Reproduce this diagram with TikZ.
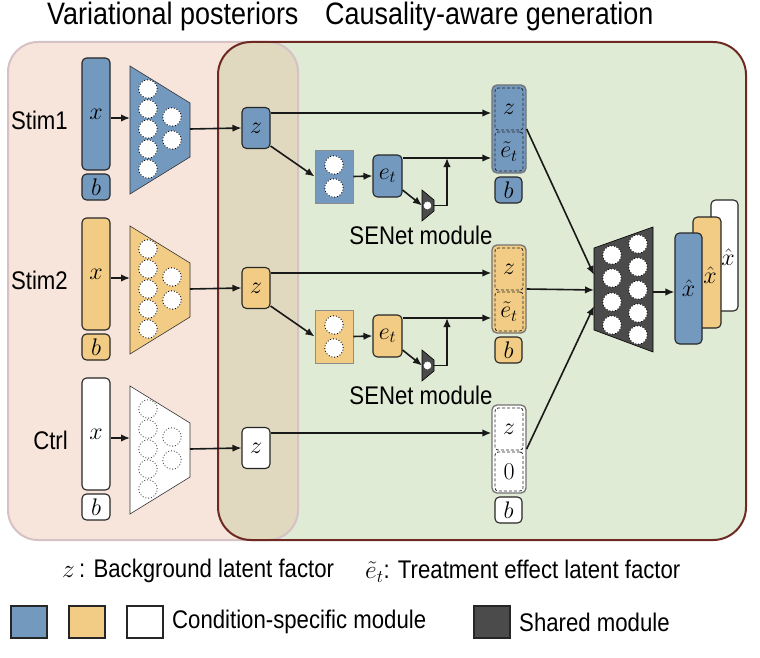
\RequirePackage{fix-cm}
\documentclass[tikz,border=0pt]{standalone}
\usepackage{fontspec}
\newfontfamily\lblfamily{Liberation Sans}[FakeStretch=0.87]
\usetikzlibrary{arrows.meta}

\definecolor{cblue}{HTML}{7499BF}
\definecolor{cyel}{HTML}{F2CC84}
\definecolor{cdark}{HTML}{4B4B4B}
\definecolor{lpink}{HTML}{F7E5DC}
\definecolor{lpinkb}{HTML}{D6C1C4}
\definecolor{lgreen}{HTML}{DFEBD5}
\definecolor{dbrown}{HTML}{6E2A22}
\definecolor{ltan}{HTML}{E0D8BF}

\newcommand\lblfont{\lblfamily\fontsize{25.5}{30}\selectfont}
\newcommand\ttlfont{\lblfamily\fontsize{31}{36}\selectfont}
\newcommand\mlabfont{\fontsize{24}{28}\selectfont}

\begin{document}
\begin{tikzpicture}[x=1pt,y=-1pt,>=Latex,
  box/.style={draw=black!85,line width=1.1pt,rounded corners=4.5pt,inner sep=0pt,font=\mlabfont},
  modb/.style={draw=black!45,line width=0.9pt,inner sep=0pt},
  cat/.style={draw=black!55,line width=1.3pt,rounded corners=5pt,inner sep=0pt},
  inr/.style={draw=black!85,dash pattern=on 3pt off 2pt,line width=0.8pt,rounded corners=3pt,inner sep=0pt,font=\mlabfont},
  enc/.style={draw=black!80,line width=0.6pt},
  sen/.style={draw=black,fill=cdark,line width=0.6pt},
  dotc/.style={circle,draw=black,fill=white,dotted,line width=0.9pt,minimum size=18.5pt,inner sep=0pt},
  dotg/.style={circle,draw=black!70,dotted,line width=0.9pt,minimum size=18.5pt,inner sep=0pt},
  sdot/.style={circle,draw=black,fill=white,dotted,line width=0.5pt,minimum size=8pt,inner sep=0pt},
  arr/.style={-{Latex[length=9pt,width=7.5pt]},line width=1.6pt,black!90},
  lbl/.style={font=\lblfont,inner sep=0pt},
  ttl/.style={font=\ttlfont,inner sep=0pt},
  sq/.style={draw=black!85,line width=2pt,minimum width=36pt,minimum height=32pt,inner sep=0pt}]
\useasboundingbox (0,0) rectangle (760,658);

% panels
\fill[lpink,rounded corners=30pt] (8,42) rectangle (298,540);
\fill[lgreen,rounded corners=33pt] (218,42) rectangle (746,540);
\begin{scope}
\clip[rounded corners=33pt] (218,42) rectangle (746,540);
\fill[ltan,rounded corners=30pt] (8,42) rectangle (298,540);
\end{scope}
\draw[lpinkb,line width=2pt,rounded corners=30pt] (8,42) rectangle (298,540);
\draw[dbrown,line width=2pt,rounded corners=33pt] (218,42) rectangle (746,540);

\node[ttl,anchor=west] (ttl1) at (47,16) {Variational posteriors};
\node[ttl,anchor=west] (ttl2) at (325,16) {Causality-aware generation};

% Stim1
\node[lbl,anchor=east] (s1) at (68,120) {Stim1};
\node[box,fill=cblue,minimum width=28pt,minimum height=112pt] (x1) at (96,114) {$x$};
\node[box,fill=cblue,minimum width=28pt,minimum height=26pt] (b1) at (96,187) {$b$};
\draw[enc,fill=cblue] (130,66) -- (190,103) -- (190,157) -- (130,194) -- cycle;
\foreach \cy in {89,109,129,149,169} \node[dotc] (n1a\cy) at (148,\cy) {};
\foreach \cy in {117,140} \node[dotc] (n1b\cy) at (172,\cy) {};
\coordinate (e1i) at (130,118);
\coordinate (e1o) at (190,129);
\node[box,fill=cblue,minimum width=28pt,minimum height=41pt] (z1) at (256,128) {$z$};
\node[modb,fill=cblue,minimum width=38pt,minimum height=53pt] (m1) at (334,176.5) {};
\node[dotc] (m1a) at (334,165) {};
\node[dotc] (m1b) at (334,188) {};
\node[box,fill=cblue,minimum width=29pt,minimum height=42pt] (et1) at (387.5,176) {$e_t$};
\draw[sen] (422,190) -- (434,200) -- (434,211) -- (422,221) -- cycle;
\node[sdot] (q1) at (427.5,205.5) {};
\coordinate (se1) at (422,205.5);
\coordinate (se1o) at (434,205.5);
\node[lbl] (sn1) at (421,235) {SENet module};
\node[cat,fill=cblue,minimum width=34pt,minimum height=88pt] (c1) at (509,129) {};
\node[inr,minimum width=28pt,minimum height=42pt] (c1z) at (509,109) {$z$};
\node[inr,minimum width=28pt,minimum height=39pt] (c1e) at (509,151.5) {$\tilde{e}_t$};
\node[box,fill=cblue,minimum width=27pt,minimum height=26pt] (cb1) at (508.5,190) {$b$};
\draw[arr] (x1.east |- e1i) -- (e1i);
\draw[arr] (e1o) -- (z1.west);
\coordinate (z1r) at ([yshift=15pt]z1.east);
\draw[arr] (z1r) -- (z1r -| c1.west);
\draw[arr] ([yshift=-18pt]z1.east) -- (m1.west);
\draw[arr] (m1.east) -- (et1.west);
\coordinate (et1r) at ([yshift=18pt]et1.east);
\draw[arr] (et1r) -- (et1r -| c1.west);
\draw[arr] ([yshift=-14pt]et1.east) -- (se1);
\coordinate (j1) at (447,158);
\draw[arr] (se1o) -| (j1);

% Stim2
\node[lbl,anchor=east] (s2) at (68,280) {Stim2};
\node[box,fill=cyel,minimum width=28pt,minimum height=112pt] (x2) at (96,274) {$x$};
\node[box,fill=cyel,minimum width=28pt,minimum height=26pt] (b2) at (96,347) {$b$};
\draw[enc,fill=cyel] (130,226) -- (190,263) -- (190,317) -- (130,354) -- cycle;
\foreach \cy in {249,269,289,309,329} \node[dotc] (n2a\cy) at (148,\cy) {};
\foreach \cy in {277,300} \node[dotc] (n2b\cy) at (172,\cy) {};
\coordinate (e2i) at (130,278);
\coordinate (e2o) at (190,289);
\node[box,fill=cyel,minimum width=28pt,minimum height=41pt] (z2) at (256,288) {$z$};
\node[modb,fill=cyel,minimum width=38pt,minimum height=53pt] (m2) at (334,336.5) {};
\node[dotc] (m2a) at (334,325) {};
\node[dotc] (m2b) at (334,348) {};
\node[box,fill=cyel,minimum width=29pt,minimum height=42pt] (et2) at (387.5,336) {$e_t$};
\draw[sen] (422,350) -- (434,360) -- (434,371) -- (422,381) -- cycle;
\node[sdot] (q2) at (427.5,365.5) {};
\coordinate (se2) at (422,365.5);
\coordinate (se2o) at (434,365.5);
\node[lbl] (sn2) at (421,395) {SENet module};
\node[cat,fill=cyel,minimum width=34pt,minimum height=88pt] (c2) at (509,289) {};
\node[inr,minimum width=28pt,minimum height=42pt] (c2z) at (509,269) {$z$};
\node[inr,minimum width=28pt,minimum height=39pt] (c2e) at (509,311.5) {$\tilde{e}_t$};
\node[box,fill=cyel,minimum width=27pt,minimum height=26pt] (cb2) at (508.5,350) {$b$};
\draw[arr] (x2.east |- e2i) -- (e2i);
\draw[arr] (e2o) -- (z2.west);
\coordinate (z2r) at ([yshift=15pt]z2.east);
\draw[arr] (z2r) -- (z2r -| c2.west);
\draw[arr] ([yshift=-18pt]z2.east) -- (m2.west);
\draw[arr] (m2.east) -- (et2.west);
\coordinate (et2r) at ([yshift=18pt]et2.east);
\draw[arr] (et2r) -- (et2r -| c2.west);
\draw[arr] ([yshift=-14pt]et2.east) -- (se2);
\coordinate (j2) at (447,318);
\draw[arr] (se2o) -| (j2);

% Ctrl
\node[lbl,anchor=east] (s3) at (68,440) {Ctrl};
\node[box,fill=white,minimum width=28pt,minimum height=112pt] (x3) at (96,434) {$x$};
\node[box,fill=white,minimum width=28pt,minimum height=26pt] (b3) at (96,507) {$b$};
\draw[enc,fill=white] (130,386) -- (190,423) -- (190,477) -- (130,514) -- cycle;
\foreach \cy in {409,429,449,469,489} \node[dotg] (n3a\cy) at (148,\cy) {};
\foreach \cy in {437,460} \node[dotg] (n3b\cy) at (172,\cy) {};
\coordinate (e3i) at (130,438);
\coordinate (e3o) at (190,449);
\node[box,fill=white,minimum width=28pt,minimum height=41pt] (z3) at (256,448) {$z$};
\node[cat,fill=white,minimum width=34pt,minimum height=88pt] (c3) at (509,449) {};
\node[inr,minimum width=28pt,minimum height=42pt] (c3z) at (509,429) {$z$};
\node[inr,minimum width=28pt,minimum height=39pt] (c3e) at (509,471.5) {$0$};
\node[box,fill=white,minimum width=27pt,minimum height=26pt] (cb3) at (508.5,510) {$b$};
\draw[arr] (x3.east |- e3i) -- (e3i);
\draw[arr] (e3o) -- (z3.west);
\coordinate (z3r) at ([yshift=15pt]z3.east);
\draw[arr] (z3r) -- (z3r -| c3.west);

% shared decoder
\draw[sen] (594,248) -- (653,227) -- (653,352) -- (594,330) -- cycle;
\foreach \cy in {255,278,302,325} \node[dotc] (da\cy) at (612,\cy) {};
\foreach \cy in {244,267,290,313,335} \node[dotc] (db\cy) at (638,\cy) {};
\coordinate (d1) at (594,275);
\coordinate (d2) at (594,290);
\coordinate (d3) at (594,306);
\coordinate (dout) at (653,292);
\draw[arr] (c1.east) -- (d1);
\draw[arr] (c2.east) -- (d2);
\draw[arr] (c3.east) -- (d3);

% reconstructions
\node[box,fill=white,minimum width=27pt,minimum height=111pt] (xh3) at (724.5,255.5) {};
\node[inner sep=0pt,font=\mlabfont] (xh3l) at (728,257) {$\hat{x}$};
\node[box,fill=cyel,minimum width=28pt,minimum height=111pt] (xh2) at (707,272.5) {};
\node[inner sep=0pt,font=\mlabfont] (xh2l) at (710,275) {$\hat{x}$};
\node[box,fill=cblue,minimum width=27pt,minimum height=111pt] (xh1) at (688.5,288.5) {$\hat{x}$};
\draw[arr] (dout) -- (dout -| xh1.west);

% legend
\node[lbl,anchor=west] (lg1) at (62,571) {$z$\,: Background latent factor};
\node[lbl,anchor=west] (lg2) at (365,571) {$\tilde{e}_t$: Treatment effect latent factor};
\node[sq,fill=cblue] (k1) at (28.5,622) {};
\node[sq,fill=cyel] (k2) at (87,622) {};
\node[sq,fill=white] (k3) at (145,622) {};
\node[lbl,anchor=west] (lg3) at (172,622) {Condition-specific module};
\node[sq,fill=cdark] (k4) at (492,622) {};
\node[lbl,anchor=west] (lg4) at (519,622) {Shared module};
\end{tikzpicture}
\end{document}
